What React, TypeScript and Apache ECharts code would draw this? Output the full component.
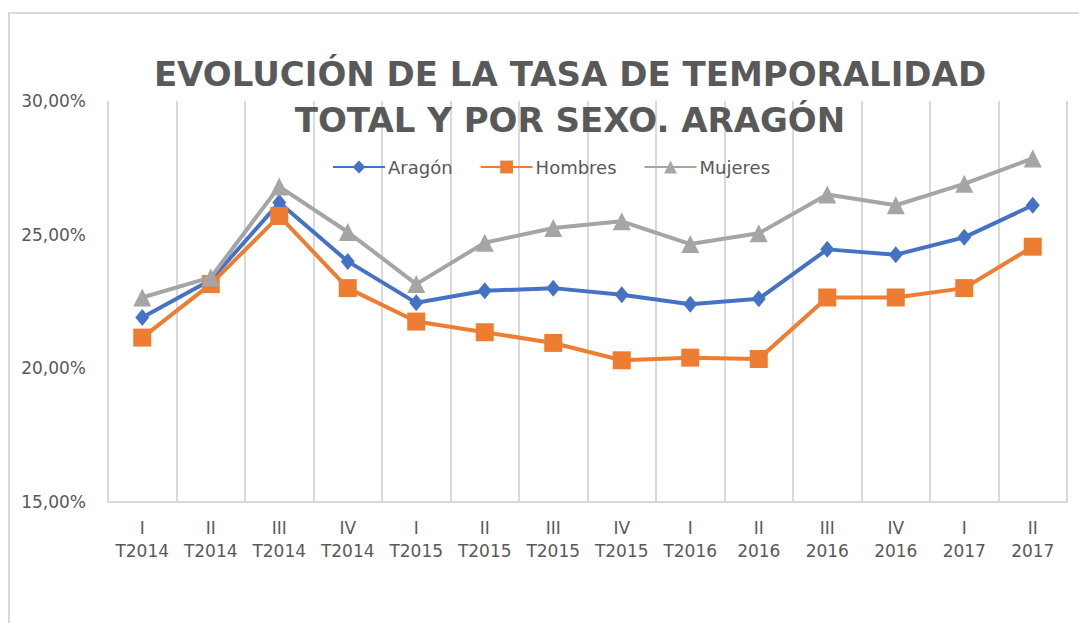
import React, { useEffect, useRef } from "react";
import * as echarts from "echarts";

const quarterLabels = ["I", "II", "III", "IV", "I", "II", "III", "IV", "I", "II", "III", "IV", "I", "II"];
const yearLabels = ["T2014", "T2014", "T2014", "T2014", "T2015", "T2015", "T2015", "T2015", "T2016", "2016", "2016", "2016", "2017", "2017"];
const categories = quarterLabels.map((q, i) => q + "\n" + yearLabels[i]);

const aragon = [21.9, 23.3, 26.2, 24.0, 22.45, 22.9, 23.0, 22.75, 22.4, 22.6, 24.45, 24.25, 24.9, 26.1];
const hombres = [21.15, 23.15, 25.7, 23.0, 21.75, 21.35, 20.95, 20.3, 20.4, 20.35, 22.65, 22.65, 23.0, 24.55];
const mujeres = [22.65, 23.4, 26.8, 25.1, 23.15, 24.7, 25.25, 25.5, 24.65, 25.05, 26.5, 26.1, 26.9, 27.85];

const yMin = 15;
const yMax = 30;
const yStep = 5;

const TEXT = "#595959";
const GRID = "#D9D9D9";

export default function App() {
  const ref = useRef<HTMLDivElement>(null);
  useEffect(() => {
    if (!ref.current) return;
    const chart = echarts.init(ref.current, undefined, { renderer: "svg" });
    chart.setOption({
      animation: false,
      backgroundColor: "#ffffff",
      graphic: [
        {
          type: "rect",
          shape: { x: 9, y: 13, width: 1200, height: 700 },
          style: { fill: "none", stroke: GRID, lineWidth: 2 },
          silent: true,
          z: -1,
        },
      ],
      title: {
        text: "EVOLUCIÓN DE LA TASA DE TEMPORALIDAD\nTOTAL Y POR SEXO. ARAGÓN",
        left: 570,
        top: 51,
        textAlign: "center",
        padding: 0,
        textStyle: {
          fontFamily: "DejaVu Sans",
          fontWeight: "bold",
          fontSize: 34,
          lineHeight: 46,
          color: TEXT,
        },
      },
      legend: {
        left: 332,
        top: 158,
        padding: 0,
        itemWidth: 52,
        itemHeight: 16,
        itemGap: 27,
        textStyle: { fontFamily: "DejaVu Sans", fontSize: 18, color: TEXT, padding: [0, 0, 0, -2] },
        data: ["Aragón", "Hombres", "Mujeres"],
      },
      grid: { left: 108, right: 12, top: 101, bottom: 121, containLabel: false },
      xAxis: {
        type: "category",
        data: categories,
        boundaryGap: true,
        axisLine: { show: true, lineStyle: { color: GRID, width: 2 } },
        axisTick: { show: false },
        splitLine: { show: true, interval: 0, lineStyle: { color: GRID, width: 2 } },
        axisLabel: {
          interval: 0,
          margin: 14,
          fontFamily: "DejaVu Sans",
          fontSize: 17,
          lineHeight: 23,
          color: TEXT,
        },
      },
      yAxis: {
        type: "value",
        min: yMin,
        max: yMax,
        interval: yStep,
        axisLine: { show: false },
        axisTick: { show: false },
        splitLine: { show: false },
        axisLabel: {
          margin: 22,
          fontFamily: "DejaVu Sans",
          fontSize: 17,
          color: TEXT,
          formatter: (v: number) => v.toFixed(2).replace(".", ",") + "%",
        },
      },
      series: [
        {
          name: "Aragón",
          type: "line",
          data: aragon,
          symbol: "diamond",
          symbolSize: [14, 17],
          lineStyle: { color: "#4472C4", width: 4 },
          itemStyle: { color: "#4472C4" },
          z: 2,
        },
        {
          name: "Hombres",
          type: "line",
          data: hombres,
          symbol: "rect",
          symbolSize: 18,
          lineStyle: { color: "#ED7D31", width: 4 },
          itemStyle: { color: "#ED7D31" },
          z: 3,
        },
        {
          name: "Mujeres",
          type: "line",
          data: mujeres,
          symbol: "triangle",
          symbolSize: 18,
          lineStyle: { color: "#A5A5A5", width: 4 },
          itemStyle: { color: "#A5A5A5" },
          z: 4,
        },
      ],
    });
    return () => chart.dispose();
  }, []);
  return (
    <div
      ref={ref}
      style={{ position: "fixed", left: 0, top: 0, width: 1079, height: 623, background: "#fff" }}
    />
  );
}
